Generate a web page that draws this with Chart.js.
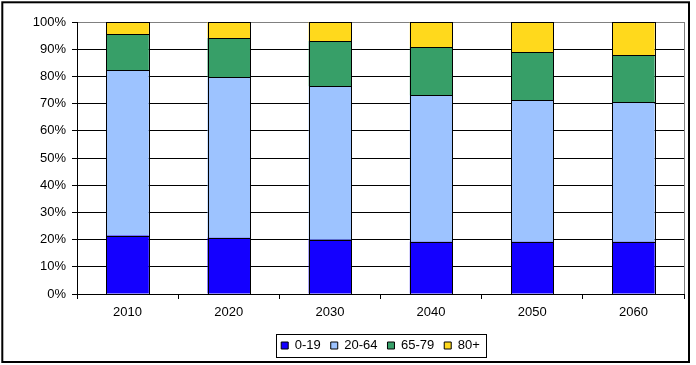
<!DOCTYPE html>
<html>
<head>
<meta charset="utf-8">
<script src="https://cdn.jsdelivr.net/npm/chart.js@4.4.0/dist/chart.umd.min.js"></script>
<style>
  html, body { margin: 0; padding: 0; background: #fff; }
  #wrap { width: 696px; height: 365px; }
</style>
</head>
<body>
<div id="wrap"><canvas id="popChart" width="696" height="365"></canvas></div>
<script>
const years = ["2010", "2020", "2030", "2040", "2050", "2060"];
const age0to19 = [21.5, 20.7, 19.9, 19.2, 19.2, 19.2];
const age20to64 = [60.8, 59.0, 56.5, 53.9, 52.0, 51.3];
const age65to79 = [13.3, 14.4, 16.6, 17.7, 17.7, 17.3];
const age80plus = [4.4, 5.9, 7.0, 9.2, 11.1, 12.2];
const yMax = 100;
const yStep = 10;

Chart.defaults.font.family = "'Liberation Sans', Arial, sans-serif";
Chart.defaults.font.size = 13;
Chart.defaults.color = "#000";

// frame, plot border and legend box like the Excel original
const framePlugin = {
  id: "frame",
  afterLayout(chart) {
    const lg = chart.legend;
    const area = chart.chartArea;
    lg.left = area.left;
    lg.right = area.right;
    lg.top = 329;
  },
  beforeDraw(chart) {
    const ctx = chart.ctx;
    ctx.save();
    ctx.fillStyle = "#fff";
    ctx.fillRect(0, 0, chart.width, chart.height);
    ctx.restore();
  },
  afterDatasetsDraw(chart) {
    // crisp black outline round every bar segment
    const ctx = chart.ctx;
    ctx.save();
    ctx.strokeStyle = "#000";
    ctx.lineWidth = 1;
    chart.data.datasets.forEach((ds, i) => {
      chart.getDatasetMeta(i).data.forEach((bar) => {
        const p = bar.getProps(["x", "y", "base", "width"], true);
        const left = Math.round(p.x - p.width / 2) + 0.5;
        const right = Math.round(p.x + p.width / 2) + 0.5;
        const top = Math.round(Math.min(p.y, p.base)) + 0.5;
        const bottom = Math.round(Math.max(p.y, p.base)) + 0.5;
        ctx.strokeRect(left, top, right - left, bottom - top);
      });
    });
    ctx.restore();
  },
  afterDraw(chart) {
    const ctx = chart.ctx;
    const area = chart.chartArea;
    ctx.save();
    ctx.strokeStyle = "#808080";
    ctx.lineWidth = 1;
    ctx.beginPath();
    ctx.moveTo(Math.round(area.right) + 0.5, area.top);
    ctx.lineTo(Math.round(area.right) + 0.5, area.bottom);
    ctx.stroke();

    const boxes = chart.legend.legendHitBoxes;
    if (boxes && boxes.length) {
      const first = boxes[0];
      const last = boxes[boxes.length - 1];
      const x1 = Math.round(first.left - 5) + 0.5;
      const x2 = Math.round(last.left + last.width + 6) + 0.5;
      const y1 = Math.round(first.top - 5) + 0.5;
      const y2 = Math.round(first.top + first.height + 5) + 0.5;
      ctx.strokeStyle = "#000";
      ctx.strokeRect(x1, y1, x2 - x1, y2 - y1);
    }

    ctx.strokeStyle = "#000";
    ctx.lineWidth = 2;
    ctx.strokeRect(2.3, 2.3, 686.7, 359.7);
    ctx.restore();
  }
};

function barSet(label, data, color) {
  return {
    label: label,
    data: data,
    backgroundColor: color,
    borderWidth: 0,
    barPercentage: 0.42,
    categoryPercentage: 1
  };
}

new Chart(document.getElementById("popChart"), {
  type: "bar",
  data: {
    labels: years,
    datasets: [
      barSet("0-19", age0to19, "#1400FF"),
      barSet("20-64", age20to64, "#9DC3FF"),
      barSet("65-79", age65to79, "#379F68"),
      barSet("80+", age80plus, "#FFD91C")
    ]
  },
  plugins: [framePlugin],
  options: {
    responsive: false,
    animation: false,
    devicePixelRatio: 1,
    layout: {
      padding: { left: 0, top: 22, right: 12, bottom: 6 }
    },
    plugins: {
      tooltip: { enabled: false },
      legend: {
        position: "bottom",
        labels: {
          boxWidth: 7,
          boxHeight: 7,
          padding: 10,
          color: "#000",
          font: { size: 13 },
          generateLabels(chart) {
            const items = Chart.defaults.plugins.legend.labels.generateLabels(chart);
            items.forEach((it) => {
              it.lineWidth = 1;
              it.strokeStyle = "#000";
            });
            return items;
          }
        }
      }
    },
    scales: {
      x: {
        stacked: true,
        grid: {
          offset: true,
          drawOnChartArea: false,
          color: "#000",
          tickLength: 5
        },
        border: { color: "#000" },
        ticks: { padding: 6, font: { size: 13 }, color: "#000" },
        afterFit(scale) { scale.height = 32; }
      },
      y: {
        stacked: true,
        min: 0,
        max: yMax,
        grid: {
          color: (c) => (c.tick && c.tick.value === yMax ? "#808080" : "#000"),
          tickColor: "#000",
          tickLength: 5
        },
        border: { color: "#000" },
        ticks: {
          stepSize: yStep,
          padding: 6,
          font: { size: 13 },
          color: "#000",
          callback: (v) => v + "%"
        },
        afterFit(scale) { scale.width = 77; }
      }
    }
  }
});
</script>
</body>
</html>
